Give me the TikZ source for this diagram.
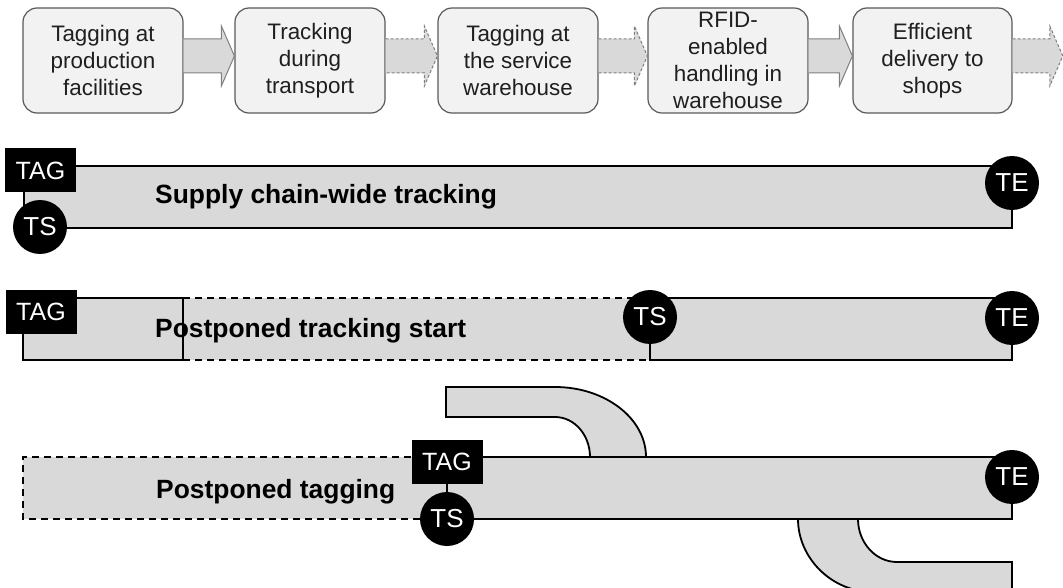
\documentclass[tikz,border=0pt]{standalone}
\usepackage{fontspec}
\setmainfont{Liberation Sans}
\usetikzlibrary{calc}
\definecolor{boxfill}{HTML}{F2F2F2}
\definecolor{boxline}{HTML}{595959}
\definecolor{barfill}{HTML}{D9D9D9}
\definecolor{arrline}{HTML}{7F7F7F}
\newcommand\blockarrow[3]{%
  \path[fill=barfill] let \p1=(#1.east), \p2=(#2.west) in
    (\x1,\y1+21.5pt) -- (\x2-13pt,\y1+21.5pt) -- (\x2-13pt,\y1+34.5pt) -- (\x2,\y1+4.5pt)
    -- (\x2-13pt,\y1-25.5pt) -- (\x2-13pt,\y1-12.5pt) -- (\x1,\y1-12.5pt) -- cycle;
  \path[#3] let \p1=(#1.east), \p2=(#2.west) in
    (\x1,\y1+21.5pt) -- (\x2-13pt,\y1+21.5pt) -- (\x2-13pt,\y1+34.5pt) -- (\x2,\y1+4.5pt)
    -- (\x2-13pt,\y1-25.5pt) -- (\x2-13pt,\y1-12.5pt) -- (\x1,\y1-12.5pt);
}
\begin{document}
\begin{tikzpicture}[x=1pt,y=-1pt,
  topbox/.style={draw=boxline, fill=boxfill, line width=1.2pt, rounded corners=14pt,
    minimum width=160pt, minimum height=105pt, inner sep=0pt, align=center,
    font=\fontsize{22.4}{27}\selectfont, text=black!88},
  tagbox/.style={fill=black, text=white, minimum width=71pt, minimum height=44pt,
    inner sep=0pt, font=\fontsize{25}{25}\selectfont},
  circ/.style={circle, fill=black, text=white, minimum size=54pt, inner sep=0pt,
    font=\fontsize{26}{26}\selectfont},
  bar/.style={fill=barfill, draw=black, line width=1.8pt},
  dbar/.style={draw=black, line width=1.6pt, dash pattern=on 7pt off 5pt},
  barlabel/.style={anchor=west, font=\bfseries\fontsize{26.4}{26.4}\selectfont, inner sep=0pt},
  arrsolid/.style={draw=arrline, line width=1pt},
  arrdash/.style={draw=arrline, line width=1pt, dash pattern=on 3pt off 2pt},
  link/.style={draw=black, line width=1.8pt},
]
\useasboundingbox (0,0) rectangle (1063,588);

% ---------- process chain ----------
\node[topbox] (b1) at (103,60.5) {Tagging at\\production\\facilities};
\node[topbox, minimum width=150pt] (b2) at (310,60.5) {Tracking\\during\\transport};
\node[topbox] (b3) at (518,60.5) {Tagging at\\the service\\warehouse};
\node[topbox] (b4) at (728,60.5) {RFID-\\enabled\\handling in\\warehouse};
\node[topbox, minimum width=159pt] (b5) at (932.5,60.5) {Efficient\\delivery to\\shops};
\coordinate (endpt) at (1063,60.5);
\node[inner sep=0pt, minimum size=0pt] (b6) at (endpt) {};

\blockarrow{b1}{b2}{arrsolid}
\blockarrow{b2}{b3}{arrdash}
\blockarrow{b3}{b4}{arrdash}
\blockarrow{b4}{b5}{arrsolid}
\blockarrow{b5}{b6}{arrdash}

% ---------- supply chain-wide tracking ----------
\draw[bar] (24,166) rectangle (1012,228);
\node[barlabel] (l1) at (155,197) {Supply chain-wide tracking};
\node[tagbox] (tag1) at (40.5,170.5) {TAG};
\node[circ] (ts1) at (40,227) {TS};
\node[circ] (te1) at (1012,183) {TE};

% ---------- postponed tracking start ----------
\fill[barfill] (183,298) rectangle (650,360);
\draw[dbar] (183,298) -- (650,298);
\draw[dbar] (183,360) -- (650,360);
\draw[bar] (23,298) rectangle (183,360);
\draw[bar] (650,298) rectangle (1012,360);
\node[barlabel] (l2) at (155,331) {Postponed tracking start};
\node[tagbox] (tag2) at (41,312) {TAG};
\node[circ] (ts2) at (650,317) {TS};
\node[circ] (te2) at (1012,318) {TE};

% ---------- postponed tagging ----------
\fill[barfill] (23,457) rectangle (447,519);
\draw[dbar] (447,457) -- (23,457) -- (23,519) -- (447,519);
% upper curved branch
\draw[bar] (590,457) .. controls (590,434.9) and (574.3,417) .. (555,417)
  -- (446,417) -- (446,387) -- (555,387)
  .. controls (605.2,387) and (646,418.4) .. (646,457);
% lower curved branch
\draw[bar] (858,519) .. controls (858,542.7) and (875.5,562) .. (897,562)
  -- (1012,562) -- (1012,592) -- (873,592)
  .. controls (831.6,592) and (798,558) .. (798,519);
\draw[bar] (447,457) rectangle (1012,519);
\node[barlabel] (l3) at (156,492) {Postponed tagging};
\node[tagbox] (tag3) at (447,462) {TAG};
\node[circ] (ts3) at (447,519) {TS};
\draw[link] (tag3) -- (ts3);
\node[circ] (te3) at (1012,477) {TE};
\end{tikzpicture}
\end{document}
